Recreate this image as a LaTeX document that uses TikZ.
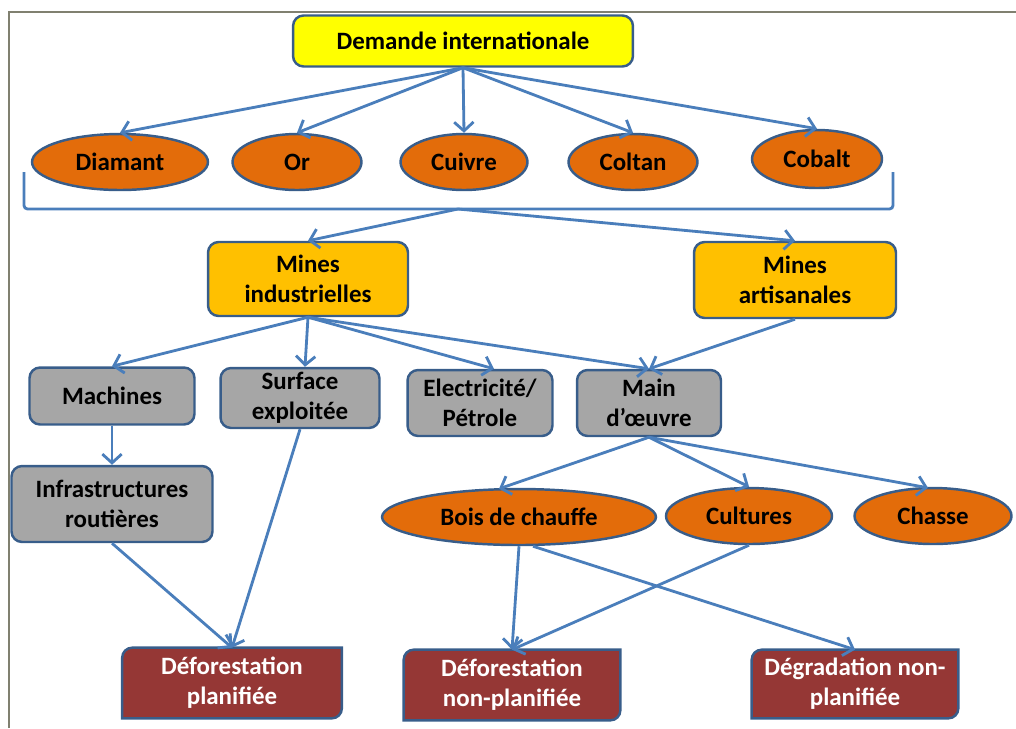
\documentclass[tikz,border=0pt]{standalone}
\usepackage{fontspec}
\setmainfont{Carlito}
\usetikzlibrary{shapes.geometric,arrows.meta,calc,backgrounds}

\definecolor{edgeblue}{HTML}{4A7EBB}
\definecolor{rimblue}{HTML}{385D8A}
\definecolor{framegray}{HTML}{808070}
\definecolor{demandfill}{HTML}{FFFF00}
\definecolor{minefill}{HTML}{FFC000}
\definecolor{orefill}{HTML}{E36C0A}
\definecolor{inputfill}{HTML}{A6A6A6}
\definecolor{lossfill}{HTML}{953735}

% outcome box: top-left and bottom-right corners rounded, the other two square
\newcommand\outcomeshape[1]{%
  \path[draw=rimblue,line width=1.4pt,fill=lossfill]
    (#1.south west) -- ($(#1.north west)+(0,10)$)
    arc[start angle=180,end angle=90,radius=0.2cm]
    -- (#1.north east) -- ($(#1.south east)+(0,-10)$)
    arc[start angle=0,end angle=-90,radius=0.2cm] -- cycle;}

\begin{document}
\begin{tikzpicture}[x=0.02cm,y=-0.02cm,
  lbl/.style={font=\fontsize{14.2}{17}\selectfont\bfseries,align=center,inner sep=0pt},
  box/.style={lbl,rectangle,rounded corners=6pt,draw=rimblue,line width=1.4pt},
  oval/.style={lbl,ellipse,draw=rimblue,line width=1.4pt,fill=orefill},
  outcome/.style={lbl,rectangle,text=white},
  link/.style={draw=edgeblue,line width=1.6pt,-{Straight Barb[length=5pt,width=11pt]}},
  sz/.style n args={2}{minimum width=#1cm,minimum height=#2cm}]
\useasboundingbox (0,0) rectangle (1016,728);

% page frame
\draw[framegray,line width=0.7pt] (9,728) -- (9,12) -- (1016,12);

% top: demand and minerals
\node[box,fill=demandfill,sz={6.8}{1.02}] (dem) at (463,41) {Demande internationale};
\node[oval,sz={3.52}{1.12}] (dia) at (120,162) {Diamant};
\node[oval,sz={2.58}{1.12}] (or)  at (297,162) {Or};
\node[oval,sz={2.54}{1.12}] (cui) at (464,162) {Cuivre};
\node[oval,sz={2.58}{1.12}] (col) at (633,162) {Coltan};
\node[oval,sz={2.60}{1.16}] (cob) at (817,159) {Cobalt};

% bracket grouping the minerals
\coordinate (brL) at (24,172);
\coordinate (brR) at (893,172);
\coordinate (brC) at (458,209);
\draw[edgeblue,line width=1.6pt,rounded corners=2pt] (brL) |- (brC) -| (brR);

% mining types
\node[box,fill=minefill,sz={4.0}{1.48}] (mi) at (308,279) {Mines\\industrielles};
\node[box,fill=minefill,sz={4.04}{1.52}] (ma) at (795,280) {Mines\\artisanales};

% mining inputs
\node[box,fill=inputfill,sz={3.3}{1.14}] (mac) at (112,396) {Machines};
\node[box,fill=inputfill,sz={3.18}{1.2}] (sur) at (300,398) {Surface\\exploitée};
\node[box,fill=inputfill,sz={2.9}{1.32}] (ele) at (480,403) {Electricité/\\Pétrole};
\node[box,fill=inputfill,sz={2.88}{1.32}] (mo)  at (649,403) {Main\\d’œuvre};
\node[box,fill=inputfill,sz={4.02}{1.52}] (inf) at (112,504) {Infrastructures\\routières};

% labour-related activities
\node[oval,sz={5.48}{1.12}] (boi) at (519,517) {Bois de chauffe};
\node[oval,sz={3.32}{1.12}] (cul) at (749,516) {Cultures};
\node[oval,sz={3.14}{1.12}] (cha) at (933,516) {Chasse};

% outcomes
\node[outcome,sz={4.38}{1.4}] (dp)  at (232,683) {Déforestation\\planifiée};
\node[outcome,sz={4.32}{1.4}] (dnp) at (512,685) {Déforestation\\non-planifiée};
\node[outcome,sz={4.12}{1.36}] (dg) at (855,684) {Dégradation non-\\planifiée};
\begin{pgfonlayer}{background}
  \outcomeshape{dp}
  \outcomeshape{dnp}
  \outcomeshape{dg}
\end{pgfonlayer}

% connectors
\foreach \t in {dia,or,cui,col,cob} \draw[link] (dem.south) -- (\t.north);
\draw[link] (brC) -- (mi.north);
\draw[link] (brC) -- (ma.north);
\draw[link] (mi.south) -- (mac.north);
\draw[link] (mi.south) -- ($(sur.north)+(5,0)$);
\draw[link] (mi.south) -- ($(ele.north)+(14,0)$);
\draw[link] (mi.south) -- (mo.north);
\draw[link] (ma.south) -- (mo.north);
\draw[link] (mac.south) -- (inf.north);
\draw[link] (mo.south) -- ($(boi.north)+(-20,1)$);
\draw[link] (mo.south) -- (cul.north);
\draw[link] (mo.south) -- ($(cha.north)+(-5,1)$);
\draw[link] (inf.south) -- (dp.north);
\draw[link] (sur.south) -- (dp.north);
\draw[link] (boi.south) -- (dnp.north);
\draw[link] ($(boi.south)+(14,0)$) -- (dg.north);
\draw[link] (cul.south) -- (dnp.north);
\end{tikzpicture}
\end{document}
